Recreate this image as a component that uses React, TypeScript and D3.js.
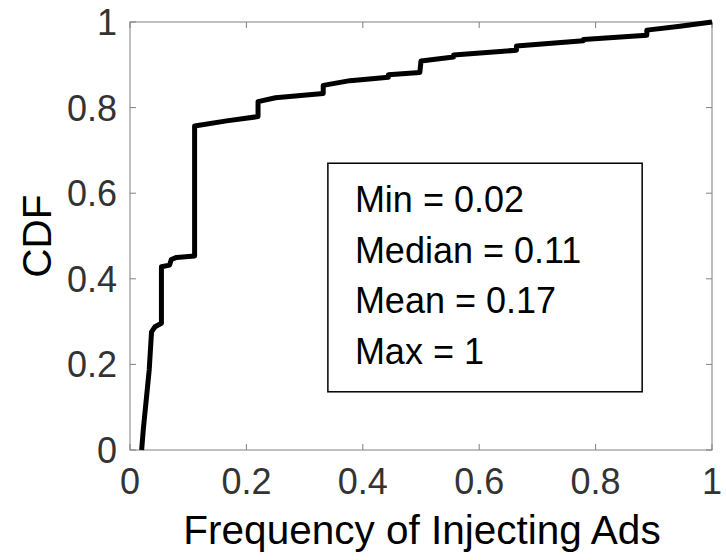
import React, { useEffect, useRef } from 'react';
import * as d3 from 'd3';

// CDF points (frequency, cumulative fraction)
const freqValues = [
  0.02, 0.023, 0.033, 0.037, 0.043, 0.054, 0.054, 0.068, 0.071, 0.08, 0.111,
  0.111, 0.166, 0.22, 0.22, 0.25, 0.332, 0.332, 0.378, 0.444, 0.444, 0.498,
  0.5, 0.556, 0.556, 0.664, 0.664, 0.779, 0.779, 0.888, 0.888, 0.945, 1,
];
const cdfValues = [
  0, 0.05, 0.187, 0.276, 0.288, 0.296, 0.428, 0.432, 0.445, 0.45, 0.453,
  0.757, 0.769, 0.779, 0.814, 0.823, 0.833, 0.852, 0.863, 0.871, 0.877, 0.882,
  0.909, 0.918, 0.923, 0.934, 0.944, 0.956, 0.959, 0.969, 0.981, 0.99, 1,
];

const xTicks = [0, 0.2, 0.4, 0.6, 0.8, 1];
const yTicks = [0, 0.2, 0.4, 0.6, 0.8, 1];
const statsLines = ['Min = 0.02', 'Median = 0.11', 'Mean = 0.17', 'Max = 1'];

const App = () => {
  const svgRef = useRef<SVGSVGElement>(null);

  useEffect(() => {
    const svg = d3.select(svgRef.current);
    svg.selectAll('*').remove();

    const width = 726;
    const height = 560;
    const margin = { top: 22, right: 14, bottom: 110, left: 130 };
    const font = '"Liberation Sans", Arial, Helvetica, sans-serif';
    const axisColor = '#808080';
    const tickLen = 6;

    svg.attr('width', width).attr('height', height).style('background', '#fff');

    const x = d3.scaleLinear().domain([0, 1]).range([margin.left, width - margin.right]);
    const y = d3.scaleLinear().domain([0, 1]).range([height - margin.bottom, margin.top]);

    const x0 = x(0), x1 = x(1), y0 = y(0), y1 = y(1);

    // axes box
    svg.append('rect')
      .attr('x', x0).attr('y', y1)
      .attr('width', x1 - x0).attr('height', y0 - y1)
      .attr('fill', 'none')
      .attr('stroke', axisColor)
      .attr('stroke-width', 1);

    // ticks, inside, on all four sides
    const ticks = svg.append('g').attr('stroke', axisColor).attr('stroke-width', 1);
    xTicks.forEach(t => {
      ticks.append('line').attr('x1', x(t)).attr('x2', x(t)).attr('y1', y0).attr('y2', y0 - tickLen);
      ticks.append('line').attr('x1', x(t)).attr('x2', x(t)).attr('y1', y1).attr('y2', y1 + tickLen);
    });
    yTicks.forEach(t => {
      ticks.append('line').attr('x1', x0).attr('x2', x0 + tickLen).attr('y1', y(t)).attr('y2', y(t));
      ticks.append('line').attr('x1', x1).attr('x2', x1 - tickLen).attr('y1', y(t)).attr('y2', y(t));
    });

    // tick labels
    svg.append('g')
      .selectAll('text')
      .data(xTicks)
      .join('text')
      .attr('x', d => x(d))
      .attr('y', y0 + 44)
      .attr('text-anchor', 'middle')
      .attr('fill', '#333')
      .style('font-family', font)
      .style('font-size', '36px')
      .text(d => d3.format('~g')(d));

    svg.append('g')
      .selectAll('text')
      .data(yTicks)
      .join('text')
      .attr('x', x0 - 13)
      .attr('y', d => y(d) + 13)
      .attr('text-anchor', 'end')
      .attr('fill', '#333')
      .style('font-family', font)
      .style('font-size', '36px')
      .text(d => d3.format('~g')(d));

    // axis labels
    svg.append('text')
      .attr('x', (x0 + x1) / 2 + 1)
      .attr('y', y0 + 94)
      .attr('text-anchor', 'middle')
      .attr('fill', '#000')
      .style('font-family', font)
      .style('font-size', '40.5px')
      .text('Frequency of Injecting Ads');

    svg.append('text')
      .attr('transform', `translate(51,${(y0 + y1) / 2}) rotate(-90)`)
      .attr('text-anchor', 'middle')
      .attr('fill', '#000')
      .style('font-family', font)
      .style('font-size', '40.5px')
      .text('CDF');

    // CDF curve
    const pts: [number, number][] = freqValues.map((f, i) => [f, cdfValues[i]]);
    const line = d3.line<[number, number]>()
      .x(d => x(d[0]))
      .y(d => y(d[1]));

    svg.append('path')
      .datum(pts)
      .attr('d', line)
      .attr('fill', 'none')
      .attr('stroke', '#000')
      .attr('stroke-width', 5)
      .attr('stroke-linejoin', 'round');

    // stats box
    const box = { left: x(0.34), right: x(0.88), top: y(0.67), bottom: y(0.136) };
    svg.append('rect')
      .attr('x', box.left).attr('y', box.top)
      .attr('width', box.right - box.left).attr('height', box.bottom - box.top)
      .attr('fill', '#fff')
      .attr('stroke', '#000')
      .attr('stroke-width', 1.5);

    svg.append('g')
      .selectAll('text')
      .data(statsLines)
      .join('text')
      .attr('x', box.left + 27)
      .attr('y', (d, i) => box.top + 49 + i * 50.5)
      .attr('fill', '#000')
      .style('font-family', font)
      .style('font-size', '36px')
      .text(d => d);
  }, []);

  return (
    <div style={{ position: 'absolute', left: 0, top: 0 }}>
      <svg ref={svgRef}></svg>
    </div>
  );
};

export default App;
